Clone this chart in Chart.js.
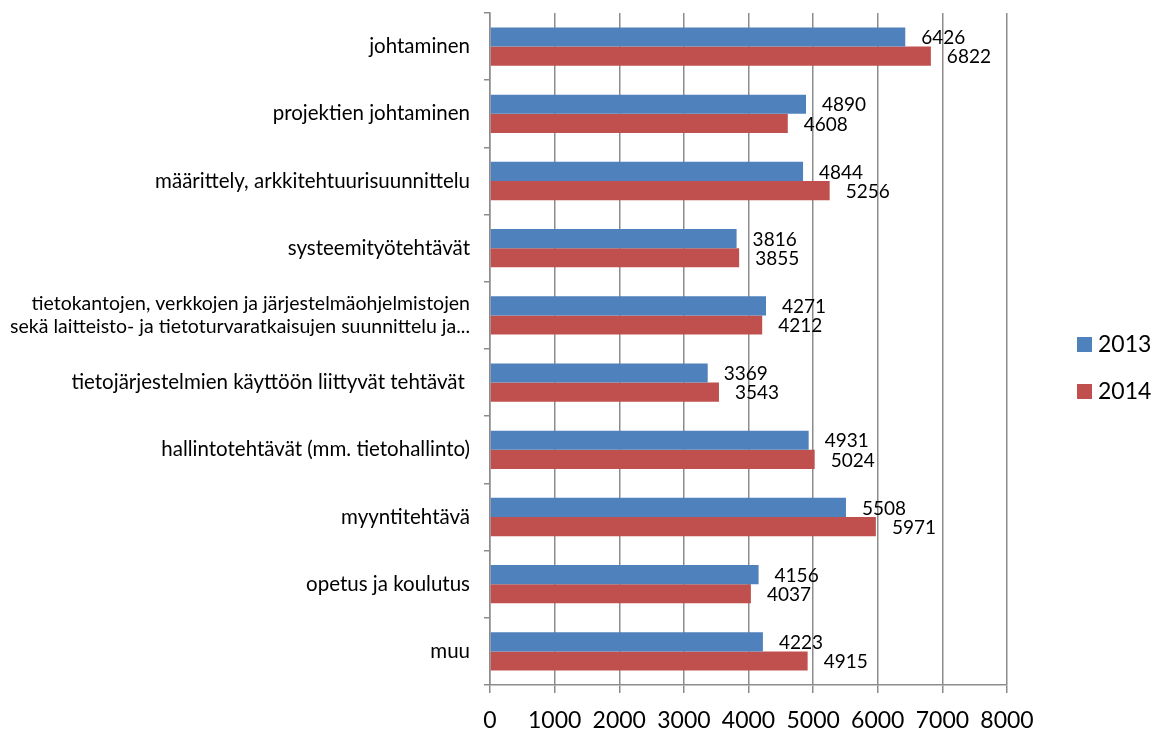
<!DOCTYPE html>
<html>
<head>
<meta charset="utf-8">
<script src="https://cdn.jsdelivr.net/npm/chart.js@4.4.1/dist/chart.umd.min.js"></script>
<style>
  html, body { margin: 0; padding: 0; background: #fff; }
  #wrap { width: 1167px; height: 729px; }
</style>
</head>
<body>
<div id="wrap"><canvas id="chart" width="1167" height="729"></canvas></div>
<script>
// Categories, top to bottom
const categories = [
  'johtaminen',
  'projektien johtaminen',
  'määrittely, arkkitehtuurisuunnittelu',
  'systeemityötehtävät',
  ['tietokantojen, verkkojen ja järjestelmäohjelmistojen', ' sekä laitteisto- ja tietoturvaratkaisujen suunnittelu ja...'],
  'tietojärjestelmien käyttöön liittyvät tehtävät ',
  'hallintotehtävät (mm. tietohallinto)',
  'myyntitehtävä',
  'opetus ja koulutus',
  'muu'
];
const seriesNames = ['2013', '2014'];
const values2013 = [6426, 4890, 4844, 3816, 4271, 3369, 4931, 5508, 4156, 4223];
const values2014 = [6822, 4608, 5256, 3855, 4212, 3543, 5024, 5971, 4037, 4915];
const xTicks = [0, 1000, 2000, 3000, 4000, 5000, 6000, 7000, 8000];

const FONT = 'Lato, "Open Sans", sans-serif';
const axisGray = '#8c8c8c';

// value labels just past the end of each bar
const valueLabels = {
  id: 'valueLabels',
  afterDatasetsDraw(chart) {
    const ctx = chart.ctx;
    ctx.save();
    ctx.font = '19px ' + FONT;
    ctx.fillStyle = '#000';
    ctx.textBaseline = 'middle';
    ctx.textAlign = 'left';
    chart.data.datasets.forEach((ds, di) => {
      const meta = chart.getDatasetMeta(di);
      meta.data.forEach((bar, i) => {
        ctx.fillText(String(ds.data[i]), bar.x + 16, bar.y + 1);
      });
    });
    ctx.restore();
  }
};

// legend drawn at the right side, like the original
const sideLegend = {
  id: 'sideLegend',
  afterDraw(chart) {
    const ctx = chart.ctx;
    const area = chart.chartArea;
    ctx.save();
    ctx.font = '23px ' + FONT;
    ctx.textBaseline = 'middle';
    chart.data.datasets.forEach((ds, i) => {
      const x = area.right + 70;
      const y = 337 + i * 47;
      ctx.fillStyle = ds.backgroundColor;
      ctx.fillRect(x, y, 15, 15);
      ctx.fillStyle = '#000';
      ctx.fillText(ds.label, x + 21, y + 8);
    });
    ctx.restore();
  }
};

new Chart(document.getElementById('chart'), {
  type: 'bar',
  data: {
    labels: categories,
    datasets: [
      { label: seriesNames[0], data: values2013, backgroundColor: '#4F81BD', borderWidth: 0,
        categoryPercentage: 0.57, barPercentage: 1.0 },
      { label: seriesNames[1], data: values2014, backgroundColor: '#C0504D', borderWidth: 0,
        categoryPercentage: 0.57, barPercentage: 1.0 }
    ]
  },
  options: {
    indexAxis: 'y',
    responsive: false,
    animation: false,
    layout: { padding: { top: 13, right: 160, bottom: 0, left: 0 } },
    plugins: {
      legend: { display: false },
      tooltip: { enabled: false }
    },
    scales: {
      x: {
        min: 0,
        max: 8000,
        afterBuildTicks(scale) {
          scale.ticks = xTicks.map(v => ({ value: v }));
        },
        afterFit(scale) {
          scale.height = 44;
          scale.paddingLeft = 0;
          scale.paddingRight = 0;
        },
        grid: {
          color: axisGray,
          lineWidth: 1.5,
          tickLength: 8,
          drawTicks: true
        },
        border: { color: axisGray, width: 1.5 },
        ticks: {
          color: '#000',
          padding: 14,
          font: { family: FONT, size: 23 },
          callback: (v) => String(v)
        }
      },
      y: {
        afterFit(scale) {
          scale.width = 490;
          scale.paddingTop = 0;
          scale.paddingBottom = 0;
        },
        grid: {
          offset: true,
          drawOnChartArea: false,
          color: axisGray,
          lineWidth: 1.5,
          tickLength: 6
        },
        border: { color: axisGray, width: 1.5 },
        ticks: {
          color: '#000',
          padding: 14,
          autoSkip: false,
          font: (c) => ({ family: FONT, size: c.index === 4 ? 19.5 : 20.5 })
        }
      }
    }
  },
  plugins: [valueLabels, sideLegend]
});
</script>
</body>
</html>
